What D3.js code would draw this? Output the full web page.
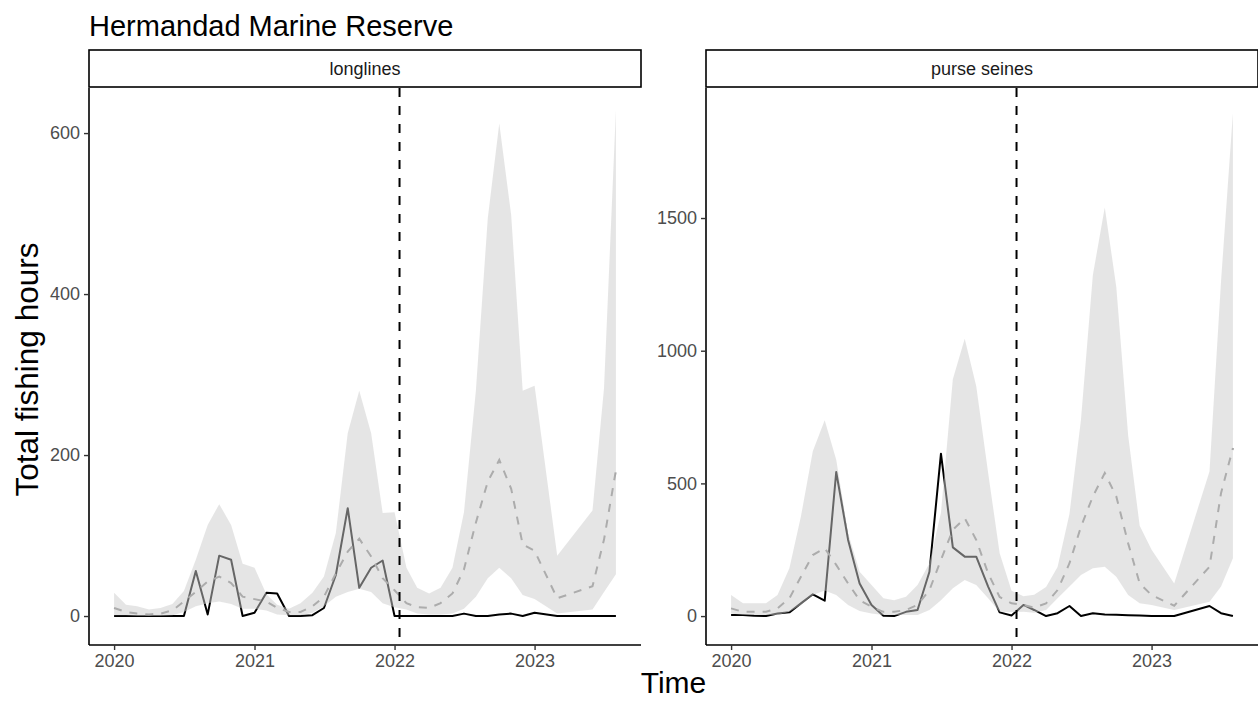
<!DOCTYPE html>
<html>
<head>
<meta charset="utf-8">
<script src="https://cdn.jsdelivr.net/npm/d3@7"></script>
<style>
  body { margin: 0; background: #fff; }
  text { font-family: "Liberation Sans", Arial, Helvetica, sans-serif; }
</style>
</head>
<body>
<svg id="chart" width="1258" height="702"></svg>
<script>
// Months with data (Feb, Apr and May 2023 are missing in the source)
const months = [
  "2020-01","2020-02","2020-03","2020-04","2020-05","2020-06","2020-07","2020-08","2020-09","2020-10","2020-11","2020-12",
  "2021-01","2021-02","2021-03","2021-04","2021-05","2021-06","2021-07","2021-08","2021-09","2021-10","2021-11","2021-12",
  "2022-01","2022-02","2022-03","2022-04","2022-05","2022-06","2022-07","2022-08","2022-09","2022-10","2022-11","2022-12",
  "2023-01","2023-03","2023-06","2023-07","2023-08"
];

// longlines: observed, prediction median, lower and upper bounds
const longObs = [0,0,0,0,0,0,0,56,2,75,70,0, 4,29,28,0,0,1,10,51,134,35,60,69, 0,0,0,0,0,0,3,0,0,2,3,0, 4,0,0,0,0];
const longMed = [10,5,3,2,3,7,18,30,43,49,41,24, 21,18,10,5,5,12,24,53,80,96,74,47, 32,16,11,10,16,28,58,116,167,194,158,89, 81,22,37,95,181];
const longLo  = [1,1,0,0,0,1,5,12,16,18,15,9, 9,7,2,1,1,4,12,24,30,34,30,16, 11,8,3,2,2,3,9,24,47,60,47,26, 21,3,8,30,52];
const longHi  = [29,14,12,8,10,15,31,70,113,139,113,65, 60,27,14,9,16,29,49,103,227,280,227,128, 129,60,35,28,35,60,129,280,494,612,498,280, 286,75,131,283,628];

// purse seines
const purseObs = [4,4,1,0,10,14,48,82,58,543,287,123, 42,1,0,16,23,167,612,259,224,224,111,14, 2,42,23,0,11,38,0,11,6,5,3,2, 0,0,38,11,0];
const purseMed = [29,16,16,16,29,67,148,230,256,193,123,60, 35,16,16,23,42,98,212,325,369,287,161,72, 48,42,32,48,98,199,337,451,539,451,274,123, 79,39,186,463,633];
const purseLo  = [10,4,4,4,4,16,42,79,96,79,42,19, 10,4,4,4,4,23,60,105,136,117,67,16, 15,16,13,23,67,111,155,180,186,148,79,48, 42,23,54,111,218];
const purseHi  = [79,48,48,48,79,180,375,621,738,589,312,167, 117,67,60,73,117,199,389,892,1045,866,539,237, 95,75,80,110,185,385,740,1285,1540,1240,680,340, 250,123,545,1260,1895];

// axis limits and ticks
const longYLimits = [-36, 656];
const purseYLimits = [-109, 1990];
const longYTicks = [0, 200, 400, 600];
const purseYTicks = [0, 500, 1000, 1500];
const xTickYears = [2020, 2021, 2022, 2023];
const reserveDate = "2022-01-14";

const parseMonth = d3.timeParse("%Y-%m");
const dates = months.map(parseMonth);

const svg = d3.select("#chart");

const panelTop = 88, panelBottom = 645, panelWidth = 552;
const facets = [
  { name: "longlines", left: 89, obs: longObs, med: longMed, lo: longLo, hi: longHi, yLim: longYLimits, yTicks: longYTicks },
  { name: "purse seines", left: 706, obs: purseObs, med: purseMed, lo: purseLo, hi: purseHi, yLim: purseYLimits, yTicks: purseYTicks }
];

// time domain with ggplot-like 5% expansion
const t0 = dates[0].getTime(), t1 = dates[dates.length - 1].getTime();
const pad = (t1 - t0) * 0.05;
const xDomain = [new Date(t0 - pad), new Date(t1 + pad)];

facets.forEach(f => {
  const x = d3.scaleTime().domain(xDomain).range([f.left, f.left + panelWidth]);
  const y = d3.scaleLinear().domain(f.yLim).range([panelBottom, panelTop]);
  const g = svg.append("g");

  const rows = dates.map((d, i) => ({ date: d, obs: f.obs[i], med: f.med[i], lo: f.lo[i], hi: f.hi[i] }));

  // observed line (drawn under the ribbon, so it turns grey inside it)
  g.append("path")
    .datum(rows)
    .attr("fill", "none")
    .attr("stroke", "#000")
    .attr("stroke-width", 2)
    .attr("stroke-linejoin", "round")
    .attr("d", d3.line().x(d => x(d.date)).y(d => y(d.obs)));

  // predicted median
  g.append("path")
    .datum(rows)
    .attr("fill", "none")
    .attr("stroke", "#8c8c8c")
    .attr("stroke-width", 2)
    .attr("stroke-dasharray", "8,8")
    .attr("d", d3.line().x(d => x(d.date)).y(d => y(d.med)));

  // prediction ribbon with transparency on top
  g.append("path")
    .datum(rows)
    .attr("fill", "#cccccc")
    .attr("fill-opacity", 0.5)
    .attr("d", d3.area().x(d => x(d.date)).y0(d => y(d.lo)).y1(d => y(d.hi)));

  // reserve start
  const xr = x(d3.timeParse("%Y-%m-%d")(reserveDate));
  g.append("line")
    .attr("x1", xr).attr("x2", xr)
    .attr("y1", panelTop).attr("y2", panelBottom)
    .attr("stroke", "#000")
    .attr("stroke-width", 2)
    .attr("stroke-dasharray", "9,9");

  // axes
  const yAxis = g.append("g")
    .attr("transform", `translate(${f.left},0)`)
    .call(d3.axisLeft(y).tickValues(f.yTicks).tickFormat(d3.format("d")).tickSize(5).tickPadding(4));
  const xAxis = g.append("g")
    .attr("transform", `translate(0,${panelBottom})`)
    .call(d3.axisBottom(x).tickValues(xTickYears.map(yr => new Date(yr, 0, 1))).tickFormat(d3.timeFormat("%Y")).tickSize(5).tickPadding(4));

  [yAxis, xAxis].forEach(a => {
    a.select(".domain").attr("stroke", "#000").attr("stroke-width", 1.6);
    a.selectAll(".tick line").attr("stroke", "#333").attr("stroke-width", 1.4);
    a.selectAll(".tick text").attr("fill", "#4d4d4d").style("font-size", "18px");
  });
  xAxis.select(".domain").attr("d", `M${f.left},0H${f.left + panelWidth}`);
  yAxis.select(".domain").attr("d", `M0,${panelTop}V${panelBottom}`);

  // strip
  g.append("rect")
    .attr("x", f.left).attr("y", 50)
    .attr("width", panelWidth).attr("height", 37)
    .attr("fill", "#fff")
    .attr("stroke", "#000")
    .attr("stroke-width", 1.6);
  g.append("text")
    .attr("x", f.left + panelWidth / 2).attr("y", 75)
    .attr("text-anchor", "middle")
    .attr("fill", "#1a1a1a")
    .style("font-size", "18px")
    .text(f.name);
});

// titles
svg.append("text")
  .attr("x", 89).attr("y", 36)
  .style("font-size", "29px")
  .attr("fill", "#000")
  .text("Hermandad Marine Reserve");

svg.append("text")
  .attr("x", (89 + 1258) / 2).attr("y", 693)
  .attr("text-anchor", "middle")
  .style("font-size", "30px")
  .text("Time");

svg.append("text")
  .attr("transform", `translate(38,${(panelTop + panelBottom) / 2 + 3}) rotate(-90)`)
  .attr("text-anchor", "middle")
  .style("font-size", "31.5px")
  .text("Total fishing hours");
</script>
</body>
</html>
